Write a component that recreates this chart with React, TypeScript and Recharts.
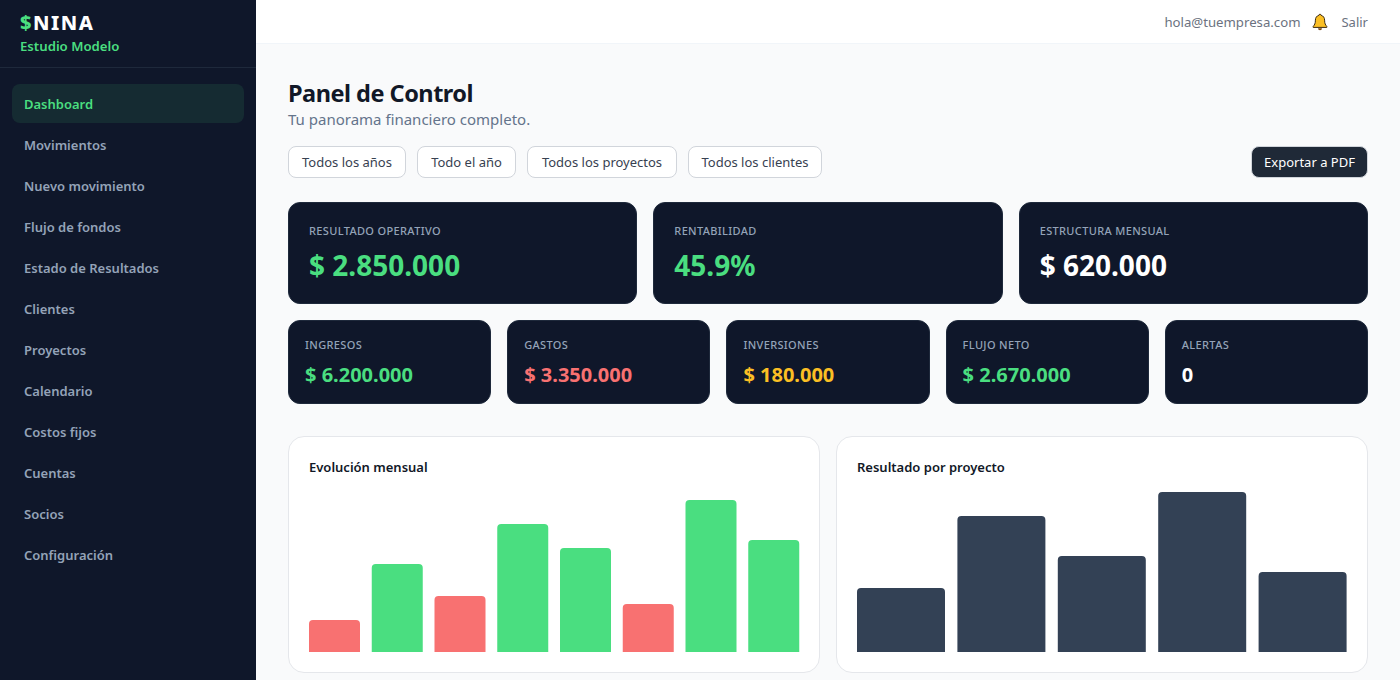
import { BarChart, Bar, Cell, XAxis, YAxis } from 'recharts'

const NAV_ITEMS = [
  'Dashboard', 'Movimientos', 'Nuevo movimiento', 'Flujo de fondos', 'Estado de Resultados', 'Clientes',
  'Proyectos', 'Calendario', 'Costos fijos', 'Cuentas', 'Socios', 'Configuración',
]

const KPI_LABELS = ['RESULTADO OPERATIVO', 'RENTABILIDAD', 'ESTRUCTURA MENSUAL']
const KPI_VALUES = ['$ 2.850.000', '45.9%', '$ 620.000']
const SUMMARY_LABELS = ['INGRESOS', 'GASTOS', 'INVERSIONES', 'FLUJO NETO', 'ALERTAS']
const SUMMARY_VALUES = ['$ 6.200.000', '$ 3.350.000', '$ 180.000', '$ 2.670.000', '0']

const MONTHS = ['1', '2', '3', '4', '5', '6', '7', '8']
const MONTH_VALUES = [20, 55, 35, 80, 65, 30, 95, 70]
const MONTH_POSITIVE = [false, true, false, true, true, false, true, true]

const PROJECTS = ['A', 'B', 'C', 'D', 'E']
const PROJECT_VALUES = [40, 85, 60, 100, 50]

const monthData = MONTHS.map((m, i) => ({ name: m, value: MONTH_VALUES[i], positive: MONTH_POSITIVE[i] }))
const projectData = PROJECTS.map((p, i) => ({ name: p, value: PROJECT_VALUES[i] }))

const FONT = '"Noto Sans", sans-serif'
const NAVY = '#0f172a'
const GREEN = '#4ade80'
const RED = '#f87171'
const AMBER = '#fbbf24'
const WHITE = '#ffffff'

const kpiColors = [GREEN, GREEN, WHITE]
const summaryColors = [GREEN, RED, AMBER, GREEN, WHITE]
const filterButtons = [
  { label: 'Todos los años', width: 118 },
  { label: 'Todo el año', width: 99 },
  { label: 'Todos los proyectos', width: 150 },
  { label: 'Todos los clientes', width: 134 },
]

function Bell() {
  return (
    <svg width="16" height="18" viewBox="0 0 16 18" style={{ display: 'block' }}>
      <path
        d="M8 1.2c-.7 0-1.1.5-1.1 1.1C4.600 2.900 3.400 4.800 3.400 7.200c0 3.300-.8 4.700-2.200 6.200v1h13.600v-1c-1.400-1.500-2.200-2.900-2.200-6.200 0-2.400-1.200-4.300-3.500-4.900C9.100 1.700 8.700 1.200 8 1.200z"
        fill={AMBER}
        stroke="#3b2a12"
        strokeWidth="1"
      />
      <path d="M6 15.200a2 2 0 0 0 4 0z" fill="#7c4a12" />
    </svg>
  )
}

function StatCard({ label, value, color, big }: { label: string; value: string; color: string; big?: boolean }) {
  return (
    <div
      style={{
        flex: 1,
        height: big ? 102 : 84,
        background: NAVY,
        borderRadius: 12,
        boxSizing: 'border-box',
        border: '1px solid #1e293b',
        padding: big ? '20px 20px' : '16px 16px',
      }}
    >
      <div style={{ fontSize: 11, lineHeight: '16px', color: '#94a3b8', letterSpacing: 0.35, fontWeight: 500 }}>{label}</div>
      <div
        style={{
          marginTop: big ? 8 : 8,
          fontSize: big ? 28 : 20,
          lineHeight: big ? '36px' : '28px',
          fontWeight: 700,
          color,
        }}
      >
        {value}
      </div>
    </div>
  )
}

function ChartCard({ title, children }: { title: string; children: React.ReactNode }) {
  return (
    <div
      style={{
        flex: 1,
        height: 237,
        background: WHITE,
        border: '1px solid #e5e7eb',
        borderRadius: 16,
        boxSizing: 'border-box',
        position: 'relative',
      }}
    >
      <div
        style={{
          position: 'absolute',
          left: 20,
          top: 20,
          fontSize: 13,
          lineHeight: '20px',
          fontWeight: 600,
          color: '#111827',
        }}
      >
        {title}
      </div>
      <div style={{ position: 'absolute', left: 14, top: 55 }}>{children}</div>
    </div>
  )
}

export default function App() {
  return (
    <div
      style={{
        position: 'fixed',
        inset: 0,
        width: 1400,
        height: 680,
        overflow: 'hidden',
        background: '#f9fafb',
        fontFamily: FONT,
      }}
    >
      {/* Sidebar */}
      <div style={{ position: 'absolute', left: 0, top: 0, width: 256, height: 680, background: NAVY }}>
        <div style={{ height: 55, borderBottom: '1px solid #1e293b', padding: '12px 20px 0' }}>
          <div style={{ fontSize: 20, lineHeight: '22px', fontWeight: 800, letterSpacing: 1.5, color: WHITE }}>
            <span style={{ color: GREEN }}>$</span>NINA
          </div>
          <div style={{ fontSize: 13.2, lineHeight: '20px', marginTop: 2, fontWeight: 600, color: GREEN }}>Estudio Modelo</div>
        </div>
        <div style={{ position: 'absolute', left: 12, top: 84, width: 232 }}>
          {NAV_ITEMS.map((item, i) => (
            <div
              key={item}
              style={{
                height: 39,
                marginBottom: 2,
                padding: '0 12px',
                lineHeight: '41px',
                fontSize: 13,
                fontWeight: 600,
                borderRadius: 8,
                color: i === 0 ? GREEN : '#94a3b8',
                background: i === 0 ? 'rgba(74, 222, 128, 0.1)' : 'transparent',
              }}
            >
              {item}
            </div>
          ))}
        </div>
      </div>

      {/* Top bar */}
      <div
        style={{
          position: 'absolute',
          left: 256,
          top: 0,
          right: 0,
          height: 43,
          background: WHITE,
          borderBottom: '1px solid #f1f5f9',
          display: 'flex',
          alignItems: 'center',
          justifyContent: 'flex-end',
          paddingRight: 32,
          fontSize: 13,
          color: '#6b7280',
        }}
      >
        <span style={{ fontSize: 13.2 }}>hola@tuempresa.com</span>
        <span style={{ margin: '0 13px 0 12px' }}>
          <Bell />
        </span>
        <span>Salir</span>
      </div>

      {/* Main */}
      <div style={{ position: 'absolute', left: 288, top: 77, width: 1080 }}>
        <div style={{ fontSize: 23.5, lineHeight: '32px', fontWeight: 700, letterSpacing: -0.5, color: '#111827' }}>Panel de Control</div>
        <div style={{ fontSize: 15, lineHeight: '20px', color: '#64748b' }}>Tu panorama financiero completo.</div>

        <div style={{ position: 'absolute', top: 69, left: 0, width: 1080, display: 'flex', gap: 11 }}>
          {filterButtons.map(b => (
            <div
              key={b.label}
              style={{
                width: b.width,
                height: 32,
                boxSizing: 'border-box',
                background: WHITE,
                border: '1px solid #d1d5db',
                borderRadius: 8,
                textAlign: 'center',
                lineHeight: '30px',
                fontSize: 13,
                color: '#374151',
                whiteSpace: 'nowrap',
              }}
            >
              {b.label}
            </div>
          ))}
          <div
            style={{
              marginLeft: 'auto',
              width: 117,
              height: 32,
              boxSizing: 'border-box',
              background: '#1f2937',
              border: '1px solid #d1d5db',
              borderRadius: 8,
              textAlign: 'center',
              lineHeight: '30px',
              fontSize: 13,
              color: WHITE,
              whiteSpace: 'nowrap',
            }}
          >
            Exportar a PDF
          </div>
        </div>

        <div style={{ position: 'absolute', top: 125, left: 0, width: 1080, display: 'flex', gap: 16 }}>
          {KPI_LABELS.map((label, i) => (
            <StatCard key={label} label={label} value={KPI_VALUES[i]} color={kpiColors[i]} big />
          ))}
        </div>

        <div style={{ position: 'absolute', top: 243, left: 0, width: 1080, display: 'flex', gap: 16 }}>
          {SUMMARY_LABELS.map((label, i) => (
            <StatCard key={label} label={label} value={SUMMARY_VALUES[i]} color={summaryColors[i]} />
          ))}
        </div>

        <div style={{ position: 'absolute', top: 359, left: 0, width: 1080, display: 'flex', gap: 16 }}>
          <ChartCard title="Evolución mensual">
            <BarChart width={502} height={160} data={monthData} margin={{ top: 0, right: 0, bottom: 0, left: 0 }} barCategoryGap={6}>
              <XAxis dataKey="name" hide />
              <YAxis domain={[0, 100]} hide />
              <Bar dataKey="value" radius={[4, 4, 0, 0]} isAnimationActive={false}>
                {monthData.map(d => (
                  <Cell key={d.name} fill={d.positive ? GREEN : RED} />
                ))}
              </Bar>
            </BarChart>
          </ChartCard>
          <ChartCard title="Resultado por proyecto">
            <BarChart width={502} height={160} data={projectData} margin={{ top: 0, right: 0, bottom: 0, left: 0 }} barCategoryGap={6}>
              <XAxis dataKey="name" hide />
              <YAxis domain={[0, 100]} hide />
              <Bar dataKey="value" fill="#334155" radius={[4, 4, 0, 0]} isAnimationActive={false} />
            </BarChart>
          </ChartCard>
        </div>
      </div>
    </div>
  )
}
